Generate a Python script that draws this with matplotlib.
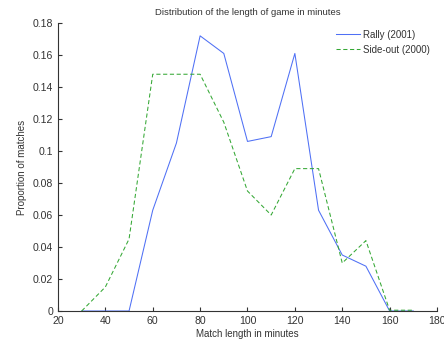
import matplotlib
matplotlib.use("Agg")
import matplotlib.pyplot as plt

minutes = [30, 40, 50, 60, 70, 80, 90, 100, 110, 120, 130, 140, 150, 160, 170]
rally = [0, 0, 0, 0.063, 0.105, 0.172, 0.161, 0.106, 0.109, 0.161, 0.063, 0.035, 0.028, 0, 0]
sideout = [0, 0.015, 0.045, 0.148, 0.148, 0.148, 0.118, 0.075, 0.060, 0.089, 0.089, 0.030, 0.044, 0.0005, 0.0005]
xticks = [20, 40, 60, 80, 100, 120, 140, 160, 180]
yticks = [0, 0.02, 0.04, 0.06, 0.08, 0.1, 0.12, 0.14, 0.16, 0.18]
ytick_labels = ["0", "0.02", "0.04", "0.06", "0.08", "0.1", "0.12", "0.14", "0.16", "0.18"]

plt.rcParams["font.family"] = ["Liberation Sans", "DejaVu Sans"]
plt.rcParams["font.size"] = 7

fig = plt.figure(figsize=(4.44, 3.39), dpi=100)
ax = fig.add_axes([0.1306, 0.0826, 0.8536, 0.8494])

ax.plot(minutes, rally, color="#4f70f5", lw=0.75, label="Rally (2001)")
ax.plot(minutes, sideout, color="#35a835", lw=0.75, ls=(0, (4, 2.5)), label="Side-out (2000)")

ax.set_xlim(20, 180)
ax.set_ylim(0, 0.18)
ax.set_xticks(xticks)
ax.set_yticks(yticks)
ax.set_yticklabels(ytick_labels)
ax.tick_params(direction="in", length=3, color="#333333", labelcolor="#333333", width=0.8,
               labelsize=7.6)
for s in ["top", "right"]:
    ax.spines[s].set_visible(False)
for s in ["left", "bottom"]:
    ax.spines[s].set_color("#333333")
    ax.spines[s].set_linewidth(0.8)

ax.set_xlabel("Match length in minutes", labelpad=2, color="#333333")
ax.set_ylabel("Proportion of matches", labelpad=4, color="#333333")
ax.set_title("Distribution of the length of game in minutes", pad=6, fontsize=6.8, color="#333333")
ax.legend(loc="upper right", frameon=False, handlelength=2.5, handletextpad=0.3,
          borderaxespad=0.3, bbox_to_anchor=(1.0, 1.0), labelcolor="#333333")

fig.savefig("out.png", dpi=100)
